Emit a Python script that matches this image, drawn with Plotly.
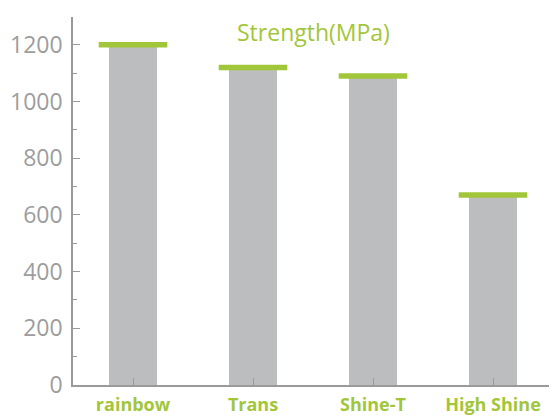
import plotly.graph_objects as go

categories = ["rainbow", "Trans", "Shine-T", "High Shine"]
strength = [1200, 1120, 1090, 670]
y_tick_values = [0, 200, 400, 600, 800, 1000, 1200]
title_text = "Strength(MPa)"

GREEN = "#a2c63a"
GRAY_BAR = "#bcbdbf"
AXIS_GRAY = "#9a9a9a"

fig = go.Figure()
fig.add_trace(go.Bar(
    x=categories, y=strength, width=0.4,
    marker=dict(color=GRAY_BAR, line=dict(width=0)),
    hoverinfo="skip",
))
fig.add_trace(go.Scatter(
    x=categories, y=strength, mode="markers",
    marker=dict(symbol="line-ew", size=49, color=GREEN,
                line=dict(color=GREEN, width=5.5)),
    hoverinfo="skip",
))

# page body has an 8px margin, so margins are offset accordingly
fig.update_layout(
    width=557, height=418,
    margin=dict(l=65, r=12, t=9, b=41),
    paper_bgcolor="white", plot_bgcolor="white",
    showlegend=False,
    font=dict(family="Open Sans"),
    annotations=[dict(
        text=title_text, xref="paper", yref="paper", x=0.5, y=0.959,
        xanchor="center", yanchor="middle", showarrow=False,
        font=dict(family="Open Sans", size=23, color=GREEN),
    )],
)
fig.update_xaxes(
    range=[-0.5, 3.5], showgrid=False, zeroline=False, automargin=False,
    showline=True, linecolor=AXIS_GRAY, linewidth=1.5,
    ticks="inside", ticklen=7, tickcolor=AXIS_GRAY, tickwidth=1.2,
    tickfont=dict(family="Open Sans", size=18, color=GREEN, weight="bold"),
    ticklabelstandoff=3,
)
fig.update_yaxes(
    range=[0, 1298], showgrid=False, zeroline=False, automargin=False,
    showline=True, linecolor=AXIS_GRAY, linewidth=1.5,
    tickvals=y_tick_values,
    ticks="inside", ticklen=7, tickcolor=AXIS_GRAY, tickwidth=1.2,
    tickfont=dict(family="Open Sans", size=23, color="#9d9d9d"),
    minor=dict(dtick=100, ticks="inside", ticklen=4, tickcolor=AXIS_GRAY, tickwidth=1.2),
    ticklabelstandoff=4,
)

fig.write_html("out.html")
